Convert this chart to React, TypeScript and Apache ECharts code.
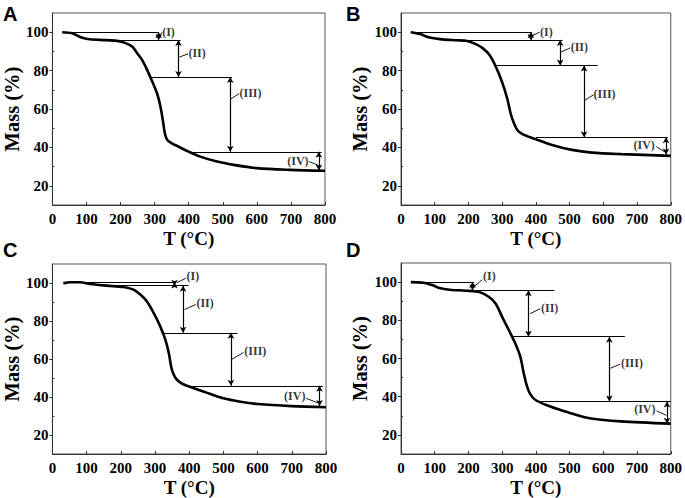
import React, { useEffect, useRef } from "react";
import * as echarts from "echarts";

// ---- axis ticks ----
const xTicks = [0, 100, 200, 300, 400, 500, 600, 700, 800];
const yTicks = [20, 40, 60, 80, 100];
const yMinorTicks = [30, 50, 70, 90];
const panelLetters = ["A", "B", "C", "D"];

// ---- Panel A ----
const tempA = [29, 58, 83, 104, 141, 190, 215, 234, 249, 263, 278, 293, 307, 317, 324, 330, 337, 348, 370, 400, 434, 483, 532, 600, 698, 800];
const massA = [100, 99.5, 97.4, 96.5, 96, 95.5, 94.3, 92.5, 89, 85.6, 80.4, 74.3, 68.2, 61.3, 54.3, 47.4, 43.9, 42.4, 40.4, 37.8, 35.2, 32.6, 30.9, 29.2, 28.3, 27.8];
const hLinesA = [[30, 312, 100], [195, 376, 96], [288, 527, 76.7], [400, 790, 37.7]];
const arrowsA = [[312, 100, 96], [370, 96, 76.7], [522, 76.7, 37.7], [782, 37.7, 28]];
const leadersA = [[312, 98, 322, 100], [372, 87, 398, 88.7], [522, 65, 548, 68], [753, 32.6, 782, 30.6]];
const labelsA = [[322, 100.3, "(I)", "r"], [399, 89, "(II)", "r"], [549, 68.2, "(III)", "r"], [752, 32.8, "(IV)", "l"]];

// ---- Panel B ----
const tempB = [29, 56, 85, 115, 164, 193, 222, 242, 262, 281, 301, 316, 325, 335, 345, 360, 399, 448, 507, 566, 654, 800];
const massB = [100, 99, 97.2, 96.4, 95.8, 95.5, 93.8, 91.7, 88.2, 82.1, 73.4, 64.8, 57.8, 52.6, 49.1, 46.9, 44.3, 41.3, 38.7, 37.3, 36.5, 35.6];
const hLinesB = [[30, 387, 100], [190, 479, 96], [282, 583, 82.6], [400, 791, 45.3]];
const arrowsB = [[385, 100, 96], [472, 96, 82.6], [543, 82.6, 45.3], [786, 45.3, 36.3]];
const leadersB = [[387, 98, 411, 100], [475, 89.7, 502, 91.8], [544, 64.4, 571, 67.4], [757, 40.4, 784, 37.5]];
const labelsB = [[412, 100.3, "(I)", "r"], [503, 92.5, "(II)", "r"], [571, 67.9, "(III)", "r"], [753, 41, "(IV)", "l"]];

// ---- Panel C ----
const tempC = [32, 52, 81, 110, 159, 208, 237, 257, 276, 296, 315, 330, 340, 349, 359, 374, 400, 450, 500, 550, 600, 700, 800];
const massC = [99.8, 100.4, 100.4, 99.5, 98.6, 97.9, 96.5, 93.9, 90.4, 84.3, 77.3, 70.3, 63.4, 54.6, 50.3, 47.6, 45.5, 42.3, 39.3, 37.5, 36.3, 35.2, 34.6];
const hLinesC = [[40, 359, 100.2], [150, 398, 98.6], [325, 541, 73.8], [403, 791, 45.9]];
const arrowsC = [[357, 100.2, 98.6], [382, 98.6, 73.8], [522, 73.8, 45.9], [781, 45.9, 35.3]];
const leadersC = [[364, 100.2, 390, 102.5], [386, 86, 419, 88.7], [525, 59.9, 559, 63.4], [742, 39.3, 778, 36.8]];
const labelsC = [[392, 103.6, "(I)", "r"], [421, 89.5, "(II)", "r"], [561, 64.2, "(III)", "r"], [740, 40.3, "(IV)", "l"]];

// ---- Panel D ----
const tempD = [29, 66, 95, 114, 144, 193, 232, 261, 281, 300, 320, 339, 354, 364, 374, 383, 398, 427, 467, 506, 564, 652, 800];
const massD = [100, 99.7, 98.3, 96.9, 96, 95.5, 94.8, 92.2, 88.7, 81.8, 74.8, 67.9, 60.9, 52.3, 45.3, 41.5, 38.4, 35.9, 33.4, 31.2, 28.6, 27.1, 25.9];
const hLinesD = [[30, 217, 100], [200, 455, 95.7], [330, 664, 71.4], [408, 800, 37.5]];
const arrowsD = [[212, 100, 95.7], [378, 95.7, 71.4], [618, 71.4, 37.5], [789, 37.5, 25.9]];
const leadersD = [[215, 97.4, 241, 101.2], [383, 83.5, 413, 86.1], [621, 54.9, 650, 57], [758, 32.6, 787, 30.2]];
const labelsD = [[243, 103, "(I)", "r"], [415, 86.6, "(II)", "r"], [652, 57.5, "(III)", "r"], [755, 33.5, "(IV)", "l"]];

const panels = [
  { temp: tempA, mass: massA, hLines: hLinesA, arrows: arrowsA, leaders: leadersA, labels: labelsA },
  { temp: tempB, mass: massB, hLines: hLinesB, arrows: arrowsB, leaders: leadersB, labels: labelsB },
  { temp: tempC, mass: massC, hLines: hLinesC, arrows: arrowsC, leaders: leadersC, labels: labelsC },
  { temp: tempD, mass: massD, hLines: hLinesD, arrows: arrowsD, leaders: leadersD, labels: labelsD },
];

const gridBoxes = [
  { left: 52, top: 13, width: 273, height: 192 },
  { left: 401, top: 13, width: 272, height: 192 },
  { left: 52, top: 264, width: 274, height: 191 },
  { left: 401, top: 263, width: 272, height: 192 },
];
const letterPos = [
  [3, 4],
  [346, 4],
  [3, 240],
  [346, 240],
];

const SERIF = "'Liberation Serif', 'Times New Roman', serif";
const INK = "#000";

function buildOption() {
  const grid: any[] = [];
  const xAxis: any[] = [];
  const yAxis: any[] = [];
  const series: any[] = [];
  const graphic: any[] = [];

  panels.forEach((p, i) => {
    const g = gridBoxes[i];
    grid.push({ ...g, show: true, borderColor: "#555", borderWidth: 1, backgroundColor: "transparent" });
    xAxis.push({
      gridIndex: i,
      type: "value",
      min: 0,
      max: 800,
      interval: 100,
      name: "T (°C)",
      nameLocation: "middle",
      nameGap: 24,
      nameTextStyle: { fontFamily: SERIF, fontWeight: "bold", fontSize: 19, color: INK },
      axisLine: { show: true, onZero: false, lineStyle: { color: "#333", width: 1 } },
      axisTick: { show: true, inside: true, length: 3, customValues: xTicks, lineStyle: { color: "#333" } },
      axisLabel: { customValues: xTicks, fontFamily: SERIF, fontWeight: "bold", fontSize: 15, color: INK, margin: 6 },
      splitLine: { show: false },
    });
    yAxis.push({
      gridIndex: i,
      type: "value",
      min: 10,
      max: 110,
      interval: 10,
      name: "Mass (%)",
      nameLocation: "middle",
      nameGap: 26,
      nameTextStyle: { fontFamily: SERIF, fontWeight: "bold", fontSize: 20.5, color: INK },
      axisLine: { show: true, onZero: false, lineStyle: { color: "#333", width: 1 } },
      axisTick: { show: true, inside: false, length: 3, customValues: yTicks, lineStyle: { color: "#333" } },
      axisLabel: { customValues: yTicks, fontFamily: SERIF, fontWeight: "bold", fontSize: 15, color: INK, margin: 4 },
      splitLine: { show: false },
    });
    yAxis.push({
      gridIndex: i,
      type: "value",
      min: 10,
      max: 110,
      interval: 10,
      position: "left",
      axisLine: { show: false },
      axisTick: { show: true, inside: true, length: 2, customValues: yMinorTicks, lineStyle: { color: "#333" } },
      axisLabel: { show: false },
      splitLine: { show: false },
    });

    const mlData: any[] = [];
    p.hLines.forEach(([x1, x2, y]) => {
      mlData.push([{ coord: [x1, y] }, { coord: [x2, y] }]);
    });
    p.arrows.forEach(([x, y1, y2]) => {
      mlData.push([
        { coord: [x, y1], symbol: "arrow", symbolSize: [5, 6] },
        { coord: [x, y2], symbol: "arrow", symbolSize: [5, 6] },
      ]);
    });
    p.leaders.forEach(([x1, y1, x2, y2]) => {
      mlData.push([
        { coord: [x1, y1], lineStyle: { width: 0.9 } },
        { coord: [x2, y2] },
      ]);
    });

    series.push({
      type: "line",
      xAxisIndex: i,
      yAxisIndex: 2 * i,
      data: p.temp.map((t, k) => [t, p.mass[k]]),
      smooth: 0.3,
      showSymbol: false,
      symbol: "none",
      lineStyle: { color: "#000", width: 2.6 },
      z: 3,
      markLine: {
        silent: true,
        animation: false,
        symbol: "none",
        label: { show: false },
        emphasis: { disabled: true },
        lineStyle: { color: "#000", width: 1.2, type: "solid" },
        data: mlData,
      },
    });

    series.push({
      type: "scatter",
      xAxisIndex: i,
      yAxisIndex: 2 * i,
      symbol: "circle",
      symbolSize: 0.1,
      itemStyle: { color: "transparent" },
      silent: true,
      z: 5,
      data: p.labels.map(([x, y, text, side]) => ({
        value: [x, y],
        label: {
          show: true,
          position: side === "r" ? "right" : "left",
          distance: 0,
          formatter: text as string,
          fontFamily: SERIF,
          fontWeight: "bold",
          fontSize: 12,
          color: INK,
        },
      })),
    });

    graphic.push({
      type: "text",
      left: letterPos[i][0],
      top: letterPos[i][1],
      style: {
        text: panelLetters[i],
        font: "bold 20px 'Liberation Sans', Arial, sans-serif",
        fill: "#000",
      },
    });
  });

  return {
    animation: false,
    backgroundColor: "#fff",
    grid,
    xAxis,
    yAxis,
    series,
    graphic,
  };
}

export default function App() {
  const ref = useRef<HTMLDivElement>(null);
  useEffect(() => {
    if (!ref.current) return;
    const chart = echarts.init(ref.current, undefined, { renderer: "svg" });
    chart.setOption(buildOption() as any);
    return () => chart.dispose();
  }, []);
  return (
    <div
      ref={ref}
      style={{ position: "fixed", left: 0, top: 0, width: 685, height: 498, background: "#fff" }}
    />
  );
}
